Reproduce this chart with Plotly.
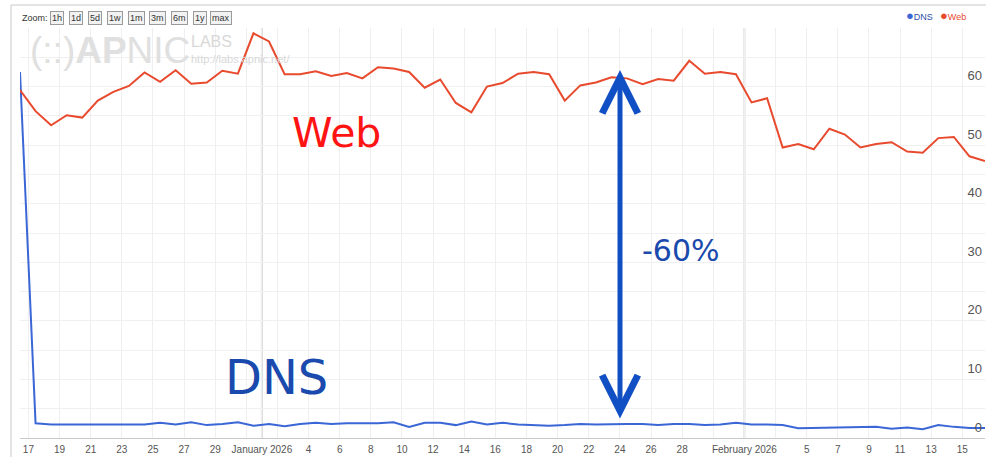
import pandas as pd
import plotly.graph_objects as go

# ---------------- data ----------------
start_time = "2025-12-16 11:00"
dns_values = [62.5, 2.5, 2.3, 2.3, 2.3, 2.3, 2.4, 2.4, 2.3, 2.6, 2.3, 2.7, 2.2, 2.4, 2.7, 2.1,
              2.4, 2.0, 2.4, 2.6, 2.4, 2.5, 2.5, 2.5, 2.7, 1.9, 2.6, 2.6, 2.2, 2.8, 2.3, 2.6,
              2.3, 2.2, 2.1, 2.2, 2.4, 2.3, 2.4, 2.4, 2.4, 2.2, 2.4, 2.4, 2.2, 2.3, 2.6, 2.3,
              2.3, 2.2, 1.65, 1.7, 1.8, 1.85, 1.9, 1.9, 1.6, 1.8, 1.5, 2.2, 1.9, 1.7, 1.7]
web_values = [59.4, 55.8, 53.4, 55.1, 54.7, 57.6, 59.1, 60.1, 62.4, 60.8, 62.8, 60.5, 60.7, 62.7,
              62.2, 69.1, 67.7, 62.1, 62.1, 62.6, 61.8, 62.3, 61.4, 63.3, 63.1, 62.5, 59.8, 61.2,
              57.2, 55.6, 60.0, 60.6, 62.2, 62.5, 62.1, 57.6, 60.2, 60.7, 61.6, 61.4, 60.4, 61.3,
              61.0, 64.4, 62.2, 62.5, 62.1, 57.3, 58.0, 49.6, 50.2, 49.3, 52.8, 51.8, 49.6, 50.2,
              50.5, 48.9, 48.7, 51.2, 51.4, 48.1, 47.3]
dates = pd.date_range(start_time, periods=len(web_values), freq="D")

tick_dates = ["2025-12-17", "2025-12-19", "2025-12-21", "2025-12-23", "2025-12-25", "2025-12-27",
              "2025-12-29", "2025-12-31", "2026-01-01", "2026-01-02", "2026-01-04", "2026-01-06",
              "2026-01-08", "2026-01-10", "2026-01-12", "2026-01-14", "2026-01-16", "2026-01-18",
              "2026-01-20", "2026-01-22", "2026-01-24", "2026-01-26", "2026-01-28", "2026-01-30",
              "2026-02-01", "2026-02-03", "2026-02-05", "2026-02-07", "2026-02-09", "2026-02-11",
              "2026-02-13", "2026-02-15"]
tick_labels = ["17", "19", "21", "23", "25", "27", "29", "", "January 2026", "", "4", "6",
               "8", "10", "12", "14", "16", "18", "20", "22", "24", "26", "28", "",
               "February 2026", "", "5", "7", "9", "11", "13", "15"]
month_starts = ["2026-01-01", "2026-02-01"]
y_tick_values = [0, 10, 20, 30, 40, 50, 60]
zoom_buttons = ["1h", "1d", "5d", "1w", "1m", "3m", "6m", "1y", "max"]

DNS_COLOR = "#3b66d6"
WEB_COLOR = "#e84a2e"

# ---------------- layout geometry ----------------
W, H = 986, 457
ML, MR, MT, MB = 20, 1, 28, 19
PW, PH = W - ML - MR, H - MT - MB


def px_x(px):
    return (px - ML) / PW


def px_y(py):
    return (H - MB - py) / PH


fig = go.Figure()
fig.add_trace(go.Scatter(x=dates, y=dns_values, mode="lines", name="DNS",
                         line=dict(color=DNS_COLOR, width=2), showlegend=False))
fig.add_trace(go.Scatter(x=dates, y=web_values, mode="lines", name="Web", yaxis="y2",
                         line=dict(color=WEB_COLOR, width=2), showlegend=False))

annotations = []
shapes = []

# month boundary grid lines (darker)
for m in month_starts:
    shapes.append(dict(type="line", xref="x", yref="paper", x0=m, x1=m, y0=0, y1=1,
                       line=dict(color="#dadada", width=2), layer="below"))

# outer frame of the screenshot
shapes.append(dict(type="line", xref="paper", yref="paper", x0=px_x(11), x1=px_x(11),
                   y0=px_y(5), y1=px_y(457), line=dict(color="#c8c8c8", width=1)))
shapes.append(dict(type="line", xref="paper", yref="paper", x0=px_x(11), x1=px_x(986),
                   y0=px_y(5), y1=px_y(5), line=dict(color="#c8c8c8", width=1)))

# watermark
annotations.append(dict(text="(::)<b>AP</b>NIC", xref="paper", yref="paper",
                        x=px_x(28), y=px_y(50), xanchor="left", yanchor="middle",
                        showarrow=False, font=dict(family="Liberation Sans", size=37, color="#e0e0e0")))
annotations.append(dict(text="LABS", xref="paper", yref="paper",
                        x=px_x(189), y=px_y(41), xanchor="left", yanchor="middle",
                        showarrow=False, font=dict(family="Liberation Sans", size=16, color="#d8d8d8")))
annotations.append(dict(text="http://labs.apnic.net/", xref="paper", yref="paper",
                        x=px_x(189), y=px_y(59), xanchor="left", yanchor="middle",
                        showarrow=False, font=dict(family="Liberation Sans", size=11, color="#d8d8d8")))

# zoom label + buttons
annotations.append(dict(text="Zoom:", xref="paper", yref="paper", x=px_x(20), y=px_y(18.5),
                        xanchor="left", yanchor="middle", showarrow=False,
                        font=dict(family="Liberation Sans", size=9, color="#333")))
btn_centers = [57, 76, 95, 115, 136, 157, 179, 199.5, 221]
for lab, cx in zip(zoom_buttons, btn_centers):
    annotations.append(dict(text=lab, xref="paper", yref="paper", x=px_x(cx), y=px_y(18.5),
                            xanchor="center", yanchor="middle", showarrow=False,
                            bgcolor="#f2f2f2", bordercolor="#9a9a9a", borderwidth=1, borderpad=1,
                            font=dict(family="Liberation Sans", size=9, color="#333")))

# legend (dot + name)
annotations.append(dict(text=f"<span style='color:{DNS_COLOR};font-size:13px'>●</span><span style='color:#2a4fa8'>DNS</span>",
                        xref="paper", yref="paper", x=px_x(904), y=px_y(16), xanchor="left",
                        yanchor="middle", showarrow=False,
                        font=dict(family="Liberation Sans", size=9)))
annotations.append(dict(text=f"<span style='color:{WEB_COLOR};font-size:13px'>●</span><span style='color:{WEB_COLOR}'>Web</span>",
                        xref="paper", yref="paper", x=px_x(938), y=px_y(16), xanchor="left",
                        yanchor="middle", showarrow=False,
                        font=dict(family="Liberation Sans", size=9)))

# hand-drawn style labels
annotations.append(dict(text="Web", xref="paper", yref="paper", x=px_x(336), y=px_y(133),
                        xanchor="center", yanchor="middle", showarrow=False,
                        font=dict(family="DejaVu Sans", size=41, color="#ff1414")))
annotations.append(dict(text="DNS", xref="paper", yref="paper", x=px_x(276), y=px_y(377),
                        xanchor="center", yanchor="middle", showarrow=False,
                        font=dict(family="DejaVu Sans", size=48, color="#1a4aad")))
annotations.append(dict(text="-60%", xref="paper", yref="paper", x=px_x(681), y=px_y(250),
                        xanchor="center", yanchor="middle", showarrow=False,
                        font=dict(family="DejaVu Sans", size=30, color="#1a4aad")))
# double-headed arrow
annotations.append(dict(text="", xref="paper", yref="paper", x=px_x(620), y=px_y(70),
                        axref="pixel", ayref="pixel", ax=0, ay=420 - 70,
                        showarrow=True, arrowside="end+start", arrowhead=5, arrowsize=1.4,
                        arrowwidth=5, arrowcolor="#1150c4", standoff=0, startstandoff=0))

fig.update_layout(
    width=W, height=H,
    margin=dict(l=ML, r=MR, t=MT, b=MB),
    paper_bgcolor="white", plot_bgcolor="white",
    showlegend=False,
    font=dict(family="Liberation Sans", color="#555"),
    annotations=annotations,
    shapes=shapes,
    xaxis=dict(
        type="date",
        range=[dates[0], dates[-1]],
        tickmode="array", tickvals=tick_dates, ticktext=tick_labels,
        showgrid=True, gridcolor="#efefef", gridwidth=1,
        showline=True, linecolor="#c8c8c8", linewidth=1,
        ticks="", ticklen=0, ticklabelstandoff=2,
        tickfont=dict(size=10, color="#555"),
        zeroline=False, fixedrange=True,
    ),
    yaxis=dict(
        range=[0, 70],
        tickmode="array", tickvals=y_tick_values, showticklabels=False,
        showgrid=True, gridcolor="#f0f0f0", gridwidth=1,
        minor=dict(dtick=5, showgrid=True, gridcolor="#f0f0f0", ticks=""),
        zeroline=False, showline=False, ticks="",
        fixedrange=True,
    ),
    yaxis2=dict(
        overlaying="y", matches="y", side="left", anchor="free", position=px_x(982),
        tickmode="array", tickvals=y_tick_values,
        ticklabelposition="outside", ticklabelshift=-11,
        showgrid=False, zeroline=False, showline=False, ticks="", ticklen=0,
        tickfont=dict(size=13, color="#555"),
        fixedrange=True,
    ),
)

fig.write_html("out.html", config={"displayModeBar": False},
               post_script="document.body.style.margin='0';")
